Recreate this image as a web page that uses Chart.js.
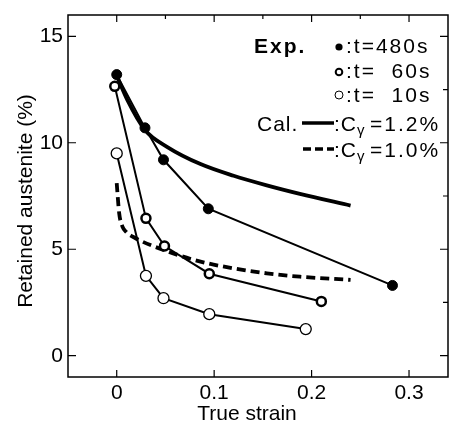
<!DOCTYPE html>
<html>
<head>
<meta charset="utf-8">
<script src="https://cdn.jsdelivr.net/npm/chart.js@4.4.1/dist/chart.umd.min.js"></script>
<style>
  body { margin: 0; background: #fff; }
</style>
</head>
<body>
<canvas id="strainChart" width="449" height="421"></canvas>
<script>
// values
const strain480 = [0, 0.029, 0.048, 0.094, 0.283]
const austenite480 = [13.2, 10.7, 9.2, 6.9, 3.3]

const strain60 = [-0.002, 0.03, 0.049, 0.095, 0.21]
const austenite60 = [12.65, 6.45, 5.15, 3.85, 2.55]

const strain10 = [0, 0.03, 0.048, 0.095, 0.194]
const austenite10 = [9.5, 3.75, 2.7, 1.95, 1.25]

// calculated curves
const strainCal12 = [0, 0.011, 0.029, 0.052, 0.086, 0.12, 0.154, 0.188, 0.24]
const austeniteCal12 = [13.15, 12.0, 10.6, 9.8, 9.0, 8.45, 8.0, 7.6, 7.05]

const strainCal10 = [0, 0.0025, 0.006, 0.01, 0.018, 0.052, 0.086, 0.12, 0.154, 0.188, 0.24]
const austeniteCal10 = [8.1, 6.7, 6.05, 5.8, 5.55, 4.9, 4.42, 4.1, 3.87, 3.71, 3.56]

// ticks
const xTicks = [0, 0.1, 0.2, 0.3]
const xMinorTicks = [0.05, 0.15, 0.25]
const yTicks = [0, 5, 10, 15]
const yMinorTicks = [2.5, 7.5, 12.5]

const FONT = '"Liberation Sans", Arial, sans-serif'

function toPoints(xs, ys) {
    return xs.map((x, i) => ({ x: x, y: ys[i] }))
}

// frame, inward ticks, axis titles and the in-plot legend
const framePlugin = {
    id: 'framePlugin',
    afterDraw(chart) {
        const ctx = chart.ctx
        const area = chart.chartArea
        const xs = chart.scales.x
        const ys = chart.scales.y
        ctx.save()
        ctx.strokeStyle = '#000'
        ctx.fillStyle = '#000'
        ctx.lineWidth = 1.5
        ctx.strokeRect(area.left, area.top, area.right - area.left, area.bottom - area.top)

        ctx.lineWidth = 1.2
        ctx.beginPath()
        xTicks.forEach(v => {
            const px = xs.getPixelForValue(v)
            ctx.moveTo(px, area.bottom); ctx.lineTo(px, area.bottom - 7)
            ctx.moveTo(px, area.top); ctx.lineTo(px, area.top + 7)
        })
        xMinorTicks.forEach(v => {
            const px = xs.getPixelForValue(v)
            ctx.moveTo(px, area.top); ctx.lineTo(px, area.top + 4)
        })
        yTicks.forEach(v => {
            const py = ys.getPixelForValue(v)
            ctx.moveTo(area.left, py); ctx.lineTo(area.left + 8, py)
            ctx.moveTo(area.right, py); ctx.lineTo(area.right - 8, py)
        })
        yMinorTicks.forEach(v => {
            const py = ys.getPixelForValue(v)
            ctx.moveTo(area.right, py); ctx.lineTo(area.right - 5, py)
        })
        ctx.stroke()

        // axis titles
        ctx.font = '21px ' + FONT
        ctx.textAlign = 'center'
        ctx.textBaseline = 'alphabetic'
        ctx.fillText('True strain', 247, 420)
        ctx.save()
        ctx.translate(32, 201)
        ctx.rotate(-Math.PI / 2)
        ctx.fillText('Retained austenite (%)', 0, 0)
        ctx.restore()

        // legend
        ctx.textAlign = 'left'
        ctx.letterSpacing = '2px'
        ctx.font = 'bold 21px ' + FONT
        ctx.fillText('Exp.', 254, 53)
        ctx.font = '21px ' + FONT
        ctx.fillText(':t=480s', 346, 53)
        ctx.fillText(':t=  60s', 346, 78)
        ctx.fillText(':t=  10s', 346, 102)

        ctx.beginPath()
        ctx.arc(339, 47, 3.6, 0, Math.PI * 2)
        ctx.fill()
        ctx.lineWidth = 2
        ctx.beginPath()
        ctx.arc(339, 72, 3.3, 0, Math.PI * 2)
        ctx.stroke()
        ctx.lineWidth = 1
        ctx.beginPath()
        ctx.arc(339, 95, 4, 0, Math.PI * 2)
        ctx.stroke()

        ctx.letterSpacing = '1px'
        ctx.fillText('Cal.', 257, 131)
        ctx.lineWidth = 3.5
        ctx.beginPath()
        ctx.moveTo(302, 123); ctx.lineTo(334, 123)
        ctx.stroke()
        ctx.setLineDash([8, 4])
        ctx.beginPath()
        ctx.moveTo(303, 149); ctx.lineTo(334, 149)
        ctx.stroke()
        ctx.setLineDash([])

        const rows = [[':C', '=1.2%', 131], [':C', '=1.0%', 157]]
        rows.forEach(r => {
            ctx.font = '21px ' + FONT
            ctx.letterSpacing = '1px'
            ctx.fillText(r[0], 334, r[2])
            ctx.font = '15px ' + FONT
            ctx.letterSpacing = '0px'
            ctx.fillText('\u03b3', 357, r[2] + 4)
            ctx.font = '21px ' + FONT
            ctx.letterSpacing = '2px'
            ctx.fillText(r[1], 370, r[2])
        })
        ctx.restore()
    }
}

const strainChart = new Chart(document.getElementById('strainChart'), {
    type: 'scatter',
    data: {
        datasets: [
            {
                label: 't=480s',
                data: toPoints(strain480, austenite480),
                showLine: true,
                borderColor: '#000',
                borderWidth: 2,
                pointRadius: 5,
                pointBackgroundColor: '#000',
                pointBorderColor: '#000',
                pointBorderWidth: 1
            },
            {
                label: 't=60s',
                data: toPoints(strain60, austenite60),
                showLine: true,
                borderColor: '#000',
                borderWidth: 2,
                pointRadius: 4.5,
                pointBackgroundColor: '#fff',
                pointBorderColor: '#000',
                pointBorderWidth: 2.5
            },
            {
                label: 't=10s',
                data: toPoints(strain10, austenite10),
                showLine: true,
                borderColor: '#000',
                borderWidth: 2,
                pointRadius: 5.5,
                pointBackgroundColor: '#fff',
                pointBorderColor: '#000',
                pointBorderWidth: 1.3
            },
            {
                label: 'Cal. 1.2%',
                data: toPoints(strainCal12, austeniteCal12),
                showLine: true,
                borderColor: '#000',
                borderWidth: 3.8,
                pointRadius: 0,
                cubicInterpolationMode: 'monotone'
            },
            {
                label: 'Cal. 1.0%',
                data: toPoints(strainCal10, austeniteCal10),
                showLine: true,
                borderColor: '#000',
                borderWidth: 3.8,
                borderDash: [9, 5],
                pointRadius: 0,
                cubicInterpolationMode: 'monotone'
            }
        ]
    },
    options: {
        responsive: false,
        animation: false,
        devicePixelRatio: 1,
        layout: { autoPadding: false, padding: { top: 15, right: 1, left: 0, bottom: 0 } },
        plugins: {
            legend: { display: false },
            tooltip: { enabled: false }
        },
        scales: {
            x: {
                type: 'linear',
                min: -0.05,
                max: 0.34,
                grid: { display: false, drawTicks: false },
                border: { display: false },
                afterBuildTicks: scale => { scale.ticks = xTicks.map(v => ({ value: v })) },
                afterFit: scale => {
                    scale.height = 44
                    scale.paddingLeft = 0
                    scale.paddingRight = 0
                },
                ticks: {
                    padding: 4,
                    color: '#000',
                    font: { family: FONT, size: 21 },
                    callback: v => (v === 0 ? '0' : v.toFixed(1))
                }
            },
            y: {
                type: 'linear',
                min: -1,
                max: 16,
                grid: { display: false, drawTicks: false },
                border: { display: false },
                afterBuildTicks: scale => { scale.ticks = yTicks.map(v => ({ value: v })) },
                afterFit: scale => {
                    scale.width = 68
                    scale.paddingTop = 0
                    scale.paddingBottom = 0
                },
                ticks: {
                    padding: 5,
                    color: '#000',
                    font: { family: FONT, size: 21 },
                    callback: v => String(v)
                }
            }
        }
    },
    plugins: [framePlugin]
})
</script>
</body>
</html>
